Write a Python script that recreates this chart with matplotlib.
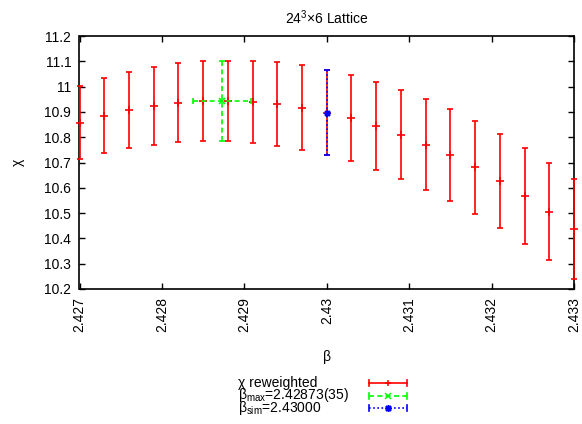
import numpy as np
import matplotlib
matplotlib.use("Agg")
import matplotlib.pyplot as plt
from matplotlib.lines import Line2D

plt.rcParams['font.family'] = ['Liberation Sans', 'DejaVu Sans']
plt.rcParams['mathtext.fontset'] = 'custom'
plt.rcParams['mathtext.rm'] = 'Liberation Sans'
plt.rcParams['mathtext.it'] = 'Liberation Sans'
plt.rcParams['mathtext.default'] = 'regular'

# reweighted susceptibility curve
beta = [2.4270, 2.4273, 2.4276, 2.4279, 2.4282, 2.4285, 2.4288, 2.4291,
        2.4294, 2.4297, 2.4300, 2.4303, 2.4306, 2.4309, 2.4312, 2.4315,
        2.4318, 2.4321, 2.4324, 2.4327, 2.4330]
chi = [10.857, 10.885, 10.908, 10.923, 10.937, 10.943, 10.944, 10.940,
       10.931, 10.917, 10.897, 10.875, 10.846, 10.810, 10.771, 10.729,
       10.681, 10.627, 10.569, 10.506, 10.437]
chi_err = [0.144, 0.148, 0.150, 0.153, 0.155, 0.157, 0.159, 0.162,
           0.165, 0.167, 0.168, 0.171, 0.174, 0.176, 0.179, 0.181,
           0.184, 0.187, 0.190, 0.193, 0.197]

# peak position
beta_max = 2.42873
beta_max_err = 0.00035
chi_max = 10.943
chi_max_err = 0.158

# simulation point
beta_sim = 2.43000
chi_sim = 10.897
chi_sim_err = 0.168

xticks = [2.427, 2.428, 2.429, 2.430, 2.431, 2.432, 2.433]
xticklabels = ['2.427', '2.428', '2.429', '2.43', '2.431', '2.432', '2.433']
yticks = [10.2, 10.3, 10.4, 10.5, 10.6, 10.7, 10.8, 10.9, 11.0, 11.1, 11.2]
yticklabels = ['10.2', '10.3', '10.4', '10.5', '10.6', '10.7', '10.8',
               '10.9', '11', '11.1', '11.2']

W, H = 582, 424
fig = plt.figure(figsize=(W / 100, H / 100), dpi=100)
ax = fig.add_axes([79.5 / W, 1 - 289 / H, (574 - 79.5) / W, (289 - 36) / H])


def px(x, y):
    return x / W, 1 - y / H


red = (1, 0, 0)
green = (0, 1, 0)
blue = (0, 0, 1)

ax.errorbar(beta, chi, yerr=chi_err, fmt='none', ecolor=red,
            elinewidth=1.2, capsize=2.5, capthick=1.2, zorder=3)
ax.plot(beta, chi, ls='none', marker='+', ms=6, mew=1.2, color=red, zorder=3)

eg = ax.errorbar([beta_max], [chi_max], xerr=[beta_max_err], yerr=[chi_max_err],
                 fmt='none', ecolor=green, elinewidth=1.2, capsize=2,
                 capthick=1.2, zorder=4)
for lc in eg[2]:
    lc.set_linestyle((0, (3, 2)))
ax.plot([beta_max], [chi_max], ls='none', marker='x', ms=5, mew=1.2,
        color=green, zorder=4)

ebl = ax.errorbar([beta_sim], [chi_sim], yerr=[chi_sim_err], fmt='none',
                  ecolor=blue, elinewidth=1.2, capsize=2.5, capthick=1.2,
                  zorder=5)
for lc in ebl[2]:
    lc.set_linestyle((0, (1, 1.5)))
ax.plot([beta_sim], [chi_sim], ls='none', marker=(8, 2, 0), ms=5, mew=1,
        color=blue, zorder=5)

for art in ax.get_children():
    try:
        art.set_clip_on(False)
    except Exception:
        pass

ax.set_xlim(2.427, 2.433)
ax.set_ylim(10.2, 11.2)
ax.set_xticks(xticks)
ax.set_xticklabels(xticklabels, rotation=90, va='top', ha='center')
ax.set_yticks(yticks)
ax.set_yticklabels(yticklabels)
ax.tick_params(direction='in', length=4.5, width=1, labelsize=10,
               top=True, right=True, pad=6, colors='black')
for sp in ax.spines.values():
    sp.set_linewidth(1.2)

fig.text(*px(327, 18), '24$^3$×6 Lattice', ha='center', va='center',
         fontsize=10)
fig.text(*px(18, 162), 'χ', ha='center', va='center', rotation=90,
         fontsize=10)
fig.text(*px(327, 357), 'β', ha='center', va='center', fontsize=10)

# key, gnuplot style
keys = [
    ('χ reweighted', red, '-', '+', 383),
    ('β$_{max}$=2.42873(35)', green, (0, (3, 2)), 'x', 395.5),
    ('β$_{sim}$=2.43000', blue, (0, (1, 1.5)), (8, 2, 0), 408),
]
for label, col, ls, mk, yy in keys:
    fig.text(*px(238, yy), label, ha='left', va='center', fontsize=10)
    x0, y0 = px(369, yy)
    x1, _ = px(407, yy)
    xm, _ = px(388, yy)
    cap = 3 / H
    fig.add_artist(Line2D([x0, x1], [y0, y0], color=col, ls=ls, lw=1.2))
    fig.add_artist(Line2D([x0, x0], [y0 - cap, y0 + cap], color=col, lw=1.2))
    fig.add_artist(Line2D([x1, x1], [y0 - cap, y0 + cap], color=col, lw=1.2))
    fig.add_artist(Line2D([xm], [y0], color=col, ls='none', marker=mk,
                          ms=5, mew=1.1))

fig.savefig('out.png', dpi=100)
